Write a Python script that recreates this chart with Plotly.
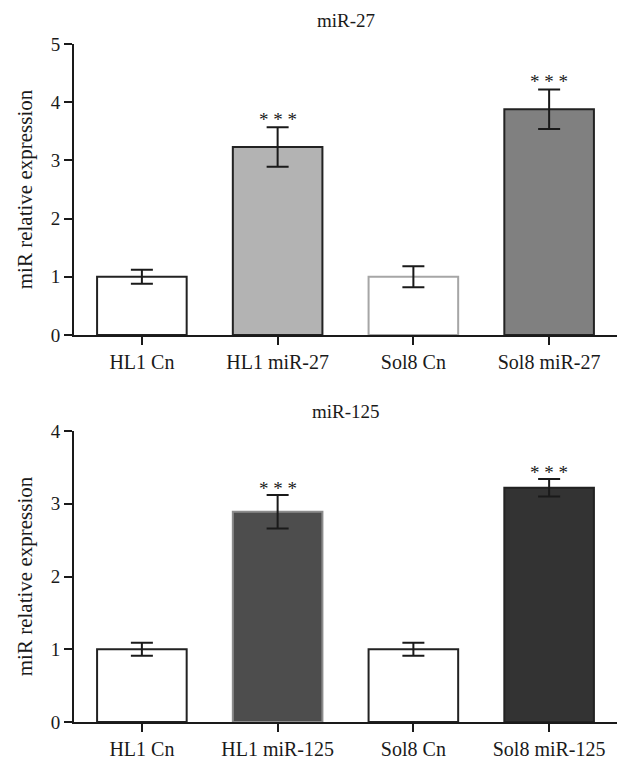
import plotly.graph_objects as go

# ---- data ----
cats_27 = ["HL1 Cn", "HL1 miR-27", "Sol8 Cn", "Sol8 miR-27"]
vals_27 = [1.0, 3.23, 1.0, 3.88]
errs_27 = [0.12, 0.34, 0.18, 0.34]
sig_27 = ["", "***", "", "***"]

cats_125 = ["HL1 Cn", "HL1 miR-125", "Sol8 Cn", "Sol8 miR-125"]
vals_125 = [1.0, 2.89, 1.0, 3.22]
errs_125 = [0.09, 0.23, 0.09, 0.12]
sig_125 = ["", "***", "", "***"]

fill_27 = ["#ffffff", "#b3b3b3", "#ffffff", "#808080"]
line_27 = ["#222222", "#222222", "#a6a6a6", "#222222"]
fill_125 = ["#ffffff", "#4d4d4d", "#ffffff", "#333333"]
line_125 = ["#222222", "#8c8c8c", "#222222", "#222222"]

FONT = "Liberation Serif"
INK = "#1a1a1a"

fig = go.Figure()
fig.add_trace(go.Bar(
    x=cats_27, y=vals_27, width=0.66,
    marker=dict(color=fill_27, line=dict(color=line_27, width=2)),
    error_y=dict(type="data", array=errs_27, color=INK, thickness=2, width=11),
    xaxis="x", yaxis="y", showlegend=False,
))
fig.add_trace(go.Bar(
    x=cats_125, y=vals_125, width=0.66,
    marker=dict(color=fill_125, line=dict(color=line_125, width=2)),
    error_y=dict(type="data", array=errs_125, color=INK, thickness=2, width=11),
    xaxis="x2", yaxis="y2", showlegend=False,
))

annotations = []
for c, v, e, s in zip(cats_27, vals_27, errs_27, sig_27):
    if s:
        annotations.append(dict(x=c, y=v + e, xref="x", yref="y", text="* * *",
                                showarrow=False, yanchor="middle", yshift=8,
                                font=dict(family=FONT, size=19, color=INK)))
for c, v, e, s in zip(cats_125, vals_125, errs_125, sig_125):
    if s:
        annotations.append(dict(x=c, y=v + e, xref="x2", yref="y2", text="* * *",
                                showarrow=False, yanchor="middle", yshift=7,
                                font=dict(family=FONT, size=19, color=INK)))
annotations.append(dict(x=0.5, y=1.0, xref="x domain", yref="paper", text="miR-27",
                        showarrow=False, yanchor="bottom", yshift=11,
                        font=dict(family=FONT, size=19, color=INK)))
annotations.append(dict(x=0.5, y=0.4292, xref="x2 domain", yref="paper", text="miR-125",
                        showarrow=False, yanchor="bottom", yshift=7,
                        font=dict(family=FONT, size=19, color=INK)))

xax = dict(showline=True, linecolor=INK, linewidth=2, ticks="outside",
           ticklen=8, tickwidth=2, tickcolor=INK, showgrid=False,
           tickfont=dict(family=FONT, size=20, color=INK), range=[-0.5, 3.5],
           automargin=False)
yax = dict(showline=True, linecolor=INK, linewidth=2, ticks="outside",
           ticklen=8, tickwidth=2, tickcolor=INK, showgrid=False, zeroline=False,
           tickfont=dict(family=FONT, size=19, color=INK), dtick=1,
           automargin=False,
           title=dict(text="miR relative expression", standoff=12,
                      font=dict(family=FONT, size=21, color=INK)))

fig.update_layout(
    width=624, height=760,
    margin=dict(l=66, r=15, t=36, b=46),
    paper_bgcolor="white", plot_bgcolor="white",
    xaxis=dict(**xax, domain=[0, 1], anchor="y"),
    yaxis=dict(**yax, domain=[0.5708, 1.0], range=[0, 5], anchor="x"),
    xaxis2=dict(**xax, domain=[0, 1], anchor="y2"),
    yaxis2=dict(**yax, domain=[0.0, 0.4292], range=[0, 4], anchor="x2"),
    annotations=annotations,
)
fig.write_html("out.html")
